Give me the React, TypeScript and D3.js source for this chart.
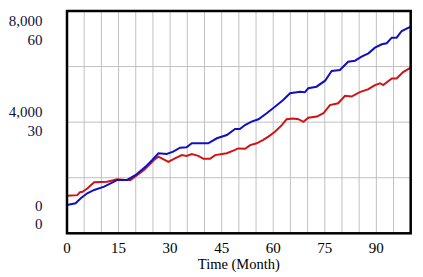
import React from "react";
import * as d3 from "d3";

const blueTime = [0, 2.5, 4, 5.9, 7.9, 10.8, 13.7, 14.6, 17.5, 20, 22.9, 24.8, 26.6, 29, 30.9, 32.9, 34.8, 36.3, 41.1, 43.6, 46.5, 48.9, 50.3, 51.8, 53.7, 55.7, 58.1, 60.5, 62.9, 64.9, 67.8, 69.2, 70.2, 72.6, 75.1, 77, 79.4, 81.8, 83.8, 85.7, 87.7, 89.6, 91.6, 93, 94.5, 95.9, 97.4, 100];
const blueValues = [1020, 1080, 1260, 1440, 1560, 1680, 1860, 1920, 1920, 2100, 2400, 2640, 2880, 2855, 2937, 3080, 3095, 3240, 3240, 3420, 3538, 3754, 3754, 3898, 4017, 4103, 4319, 4556, 4797, 5039, 5096, 5075, 5219, 5276, 5492, 5840, 5876, 6175, 6212, 6356, 6478, 6680, 6802, 6838, 7040, 7040, 7281, 7436];

const redTime = [0, 3, 3.8, 4.5, 5.9, 7.9, 11.7, 14.6, 16.9, 18.5, 22.4, 25.3, 26.6, 29.5, 31.4, 33.4, 34.8, 36.3, 38.2, 39.7, 41.6, 43.1, 46.5, 48.9, 49.8, 51.8, 53.3, 55.2, 57.1, 58.6, 60.5, 62.5, 63.9, 65.8, 67.3, 68.8, 70.2, 72.7, 74.6, 76.5, 78.9, 80.9, 82.8, 85.2, 87.7, 89.6, 91.1, 92, 94.5, 95.9, 97.8, 100];
const redValues = [10.15, 10.3, 11.1, 11.2, 12.1, 13.8, 13.9, 14.6, 14.4, 14.4, 17.1, 19.8, 20.7, 19.3, 20.2, 21.1, 20.9, 21.4, 20.9, 20.1, 20.1, 21.1, 21.6, 22.5, 22.9, 22.8, 23.8, 24.3, 25.2, 26.1, 27.4, 29.2, 30.8, 31.0, 30.8, 30.1, 31.2, 31.5, 32.4, 34.6, 35.1, 37.1, 36.9, 38.1, 38.9, 40.0, 40.5, 40.0, 41.8, 41.8, 43.5, 44.7];

const xTicks = [0, 15, 30, 45, 60, 75, 90];
const blueTicks = ["0", "4,000", "8,000"];
const redTicks = ["0", "30", "60"];

const W = 423, H = 277;
const L = 67, R = 410.7, T = 11, B = 233.3;

export default function App() {
  const x = d3.scaleLinear().domain([0, 100]).range([L, R]);
  const yB = d3.scaleLinear().domain([0, 8000]).range([B, T]);
  const yR = d3.scaleLinear().domain([0, 60]).range([B, T]);
  const blueLine = d3.line<number>().x((_, i) => x(blueTime[i])).y((d) => yB(d));
  const redLine = d3.line<number>().x((_, i) => x(redTime[i])).y((d) => yR(d));
  const vGrid = d3.range(5, 100, 5);
  const hGrid = [1, 2, 3].map((k) => T + ((B - T) * k) / 4);
  const labelPos = [
    [B - 27.3, B - 9.3],
    [yB(4000) - 10.5, yB(4000) + 8.5],
    [T + 10, T + 29],
  ];
  return (
    <svg width={W} height={H} style={{ position: "absolute", left: 0, top: 0, background: "#fff" }}>
      <rect x={0} y={0} width={W} height={H} fill="#fff" />
      {vGrid.map((v) => (
        <line key={"v" + v} x1={x(v)} x2={x(v)} y1={T} y2={B} stroke="#c0c0c0" strokeWidth={1} />
      ))}
      {hGrid.map((y, i) => (
        <line key={"h" + i} x1={L} x2={R} y1={y} y2={y} stroke="#c0c0c0" strokeWidth={1} />
      ))}
      <path d={redLine(redValues) || ""} fill="none" stroke="#d01414" strokeWidth={2} />
      <path d={blueLine(blueValues) || ""} fill="none" stroke="#1010c0" strokeWidth={2} />
      <rect x={L} y={T} width={R - L} height={B - T} fill="none" stroke="#000" strokeWidth={2.5} />
      {xTicks.map((t) => (
        <text key={"x" + t} x={x(t)} y={253} textAnchor="middle" fontFamily="Liberation Serif" fontSize={15} fill="#000">
          {t}
        </text>
      ))}
      <text x={(L + R) / 2} y={269} textAnchor="middle" fontFamily="Liberation Serif" fontSize={14.5} fill="#000">
        Time (Month)
      </text>
      {blueTicks.map((s, i) => (
        <text key={"b" + i} x={42.5} y={labelPos[i][0]} dy="0.35em" textAnchor="end" fontFamily="Liberation Serif" fontSize={15} fill="#10103a">
          {s}
        </text>
      ))}
      {redTicks.map((s, i) => (
        <text key={"r" + i} x={42.5} y={labelPos[i][1]} dy="0.35em" textAnchor="end" fontFamily="Liberation Serif" fontSize={15} fill="#10103a">
          {s}
        </text>
      ))}
    </svg>
  );
}
